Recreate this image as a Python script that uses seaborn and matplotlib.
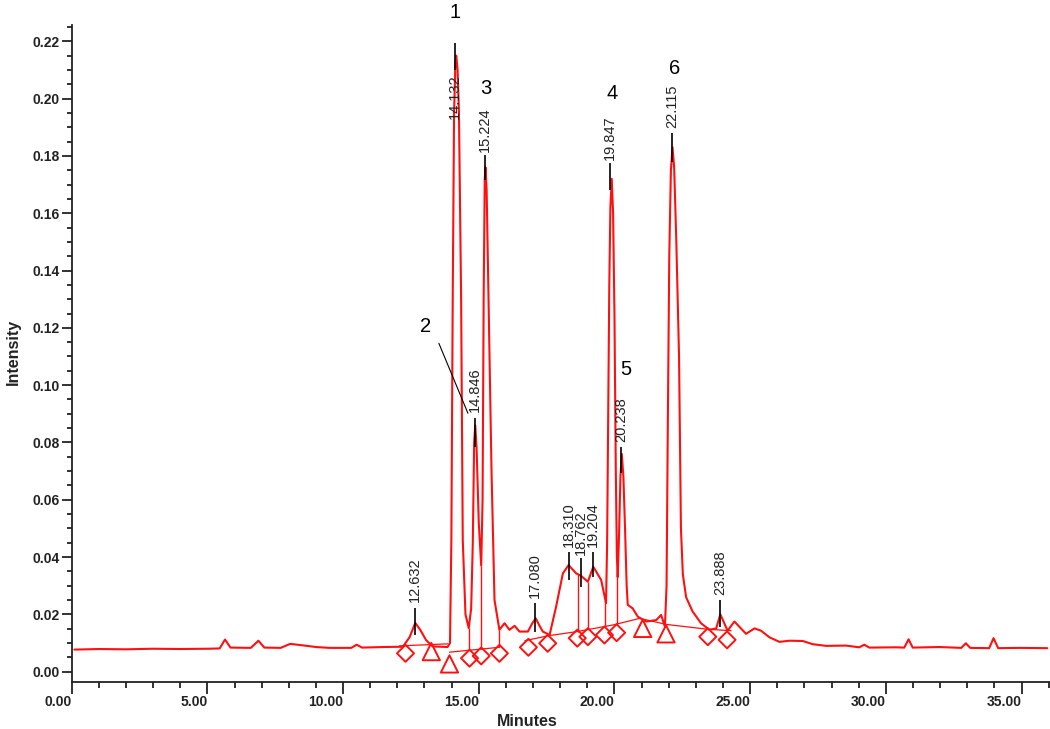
import matplotlib
matplotlib.use('Agg')
import matplotlib.pyplot as plt
from matplotlib.ticker import MultipleLocator
import seaborn as sns
import pandas as pd

# ---------------------------------------------------------------
# data
# ---------------------------------------------------------------
trace_time = [0.10, 1.0, 2.0, 3.0, 4.0, 5.0, 5.45, 5.65, 5.85, 6.6, 6.88, 7.1,
              7.7, 8.05, 8.5, 9.0, 9.5, 10.3, 10.5, 10.7, 11.5, 12.2, 12.45,
              12.66, 12.85, 13.06, 13.3, 13.85,
              13.94, 13.99, 14.04, 14.09, 14.14, 14.17, 14.22, 14.27, 14.35,
              14.41, 14.51, 14.63,
              14.72, 14.78, 14.83, 14.87, 14.92, 15.00, 15.09,
              15.14, 15.18, 15.22, 15.25, 15.29, 15.36, 15.47, 15.58, 15.70,
              15.76, 15.95, 16.13, 16.32, 16.50, 16.81, 16.98, 17.10, 17.24,
              17.36, 17.61, 17.85, 18.10, 18.31, 18.59, 18.76, 19.02, 19.22,
              19.51, 19.69,
              19.73, 19.77, 19.81, 19.85, 19.90, 19.95, 20.00, 20.05, 20.09,
              20.12,
              20.17, 20.22, 20.27, 20.33, 20.39, 20.45, 20.49, 20.67, 20.86,
              21.17, 21.54, 21.72, 21.86,
              21.92, 21.97, 22.02, 22.08, 22.14, 22.20, 22.28, 22.38, 22.45,
              22.52, 22.64, 22.88, 23.19, 23.50, 23.75, 23.90, 24.17, 24.42,
              24.85, 25.16, 25.40, 25.71, 26.08, 26.45, 26.94, 27.30, 27.80,
              28.53, 29.02, 29.21, 29.39, 30.37, 30.68, 30.84, 30.99, 31.97,
              32.78, 32.95, 33.11, 33.81, 33.97, 34.14, 34.92, 35.95]
trace_int = [0.0077, 0.0079, 0.0078, 0.0080, 0.0079, 0.0080, 0.0081, 0.0112,
             0.0084, 0.0083, 0.0108, 0.0084, 0.0083, 0.0097, 0.0092, 0.0086,
             0.0083, 0.0083, 0.0094, 0.0084, 0.0086, 0.0087, 0.0120, 0.0170,
             0.0145, 0.0110, 0.0088, 0.0086,
             0.0100, 0.046, 0.130, 0.195, 0.213, 0.215, 0.210, 0.195, 0.130,
             0.046, 0.020, 0.0152,
             0.022, 0.045, 0.080, 0.086, 0.078, 0.052, 0.037,
             0.060, 0.130, 0.172, 0.176, 0.168, 0.130, 0.070, 0.025, 0.018,
             0.0146, 0.0169, 0.0146, 0.0160, 0.0140, 0.0140, 0.0170, 0.0186,
             0.0160, 0.0140, 0.0128, 0.0227, 0.0343, 0.0372, 0.0343, 0.0335,
             0.0314, 0.0366, 0.0320, 0.0239,
             0.045, 0.090, 0.135, 0.162, 0.172, 0.160, 0.125, 0.070, 0.040,
             0.033,
             0.048, 0.068, 0.076, 0.068, 0.050, 0.030, 0.0233, 0.0221, 0.0192,
             0.0175, 0.0180, 0.0198, 0.0157,
             0.030, 0.090, 0.145, 0.175, 0.183, 0.176, 0.150, 0.110, 0.050,
             0.034, 0.026, 0.021, 0.0169, 0.0146, 0.0151, 0.0200, 0.0143,
             0.0175, 0.0132, 0.0151, 0.0143, 0.0120, 0.0104, 0.0108, 0.0107,
             0.0096, 0.0090, 0.0091, 0.0085, 0.0094, 0.0084, 0.0085, 0.0084,
             0.0113, 0.0084, 0.0086, 0.0083, 0.0099, 0.0083, 0.0082, 0.0117,
             0.0082, 0.0083, 0.0082]

# integration baselines (segment id, time, intensity)
base_seg = [0, 0, 1, 1, 2, 2, 2, 2, 2, 2, 2, 2]
base_time = [12.08, 13.85, 13.92, 15.76, 16.70, 17.54, 18.63, 19.95, 20.93,
             21.90, 23.44, 24.30]
base_int = [0.0090, 0.0097, 0.0068, 0.0085, 0.0108, 0.0125, 0.0140, 0.0163,
            0.0186, 0.0165, 0.0148, 0.0143]

# peak start/end markers
diamond_time = [12.30, 14.66, 15.09, 15.76, 16.83, 17.54, 18.63, 19.02, 19.63,
                20.08, 23.44, 24.15]
diamond_int = [0.0064, 0.0047, 0.0055, 0.0064, 0.0085, 0.0099, 0.0117, 0.0122,
               0.0128, 0.0136, 0.0122, 0.0111]
triangle_time = [13.25, 13.92, 21.04, 21.90]
triangle_int = [0.0070, 0.0027, 0.0151, 0.0132]

# drop lines between co-eluting peaks
drop_time = [14.63, 15.09, 15.76, 18.67, 19.02, 19.66, 20.10]
drop_top = [0.0152, 0.037, 0.0146, 0.034, 0.0314, 0.025, 0.034]
drop_bot = [0.0076, 0.0079, 0.0085, 0.0140, 0.0148, 0.0158, 0.0166]

# retention time annotations
peak_rt = [12.632, 14.132, 14.846, 15.224, 17.080, 18.310, 18.762, 19.204,
           19.847, 20.238, 22.115, 23.888]
peak_rt_text = ['12.632', '14.132', '14.846', '15.224', '17.080', '18.310',
                '18.762', '19.204', '19.847', '20.238', '22.115', '23.888']
apex_lo = [0.0128, 0.210, 0.0785, 0.1716, 0.014, 0.032, 0.0297, 0.0332,
           0.168, 0.0692, 0.178, 0.0155]
apex_hi = [0.0222, 0.2195, 0.0884, 0.1803, 0.0239, 0.0419, 0.0396, 0.0419,
           0.1775, 0.0785, 0.1879, 0.025]
rt_text_y = [0.0243, 0.2085, 0.0906, 0.1815, 0.0257, 0.0435, 0.0407, 0.0436,
             0.1786, 0.0803, 0.1896, 0.0268]
rt_text_va = ['bottom', 'top', 'bottom', 'bottom', 'bottom', 'bottom',
              'bottom', 'bottom', 'bottom', 'bottom', 'bottom', 'bottom']

# compound numbers
num_labels = ['1', '2', '3', '4', '5', '6']
num_time = [14.14, 13.04, 15.27, 19.90, 20.43, 22.21]
num_int = [0.230, 0.1204, 0.2037, 0.2019, 0.1056, 0.2106]
leader_time = [13.53, 14.60]
leader_int = [0.1146, 0.0902]

x_ticks = [0, 5, 10, 15, 20, 25, 30, 35]
x_tick_labels = ['0.00', '5.00', '10.00', '15.00', '20.00', '25.00', '30.00', '35.00']
y_ticks = [0.00, 0.02, 0.04, 0.06, 0.08, 0.10, 0.12, 0.14, 0.16, 0.18, 0.20, 0.22]
y_tick_labels = ['0.00', '0.02', '0.04', '0.06', '0.08', '0.10', '0.12',
                 '0.14', '0.16', '0.18', '0.20', '0.22']

# ---------------------------------------------------------------
# plot
# ---------------------------------------------------------------
sns.set_theme(style='ticks')
plt.rcParams['font.family'] = ['Liberation Sans', 'DejaVu Sans']

RED = '#ff1010'
DARK = '#222222'

fig = plt.figure(figsize=(10.5, 7.29), dpi=100)
ax = fig.add_axes([0.0683, 0.0649, 0.9317, 0.9008])

sns.lineplot(x=trace_time, y=trace_int, color=RED, lw=1.5, estimator=None,
             sort=False, ax=ax)

base_df = pd.DataFrame({'seg': base_seg, 't': base_time, 'i': base_int})
sns.lineplot(data=base_df, x='t', y='i', units='seg', estimator=None,
             color=RED, lw=0.9, ax=ax)

ax.vlines(drop_time, drop_bot, drop_top, color=RED, lw=1.0)

sns.scatterplot(x=diamond_time, y=diamond_int, marker='D', s=75,
                facecolor='none', edgecolor=RED, linewidth=1.4, ax=ax, zorder=4)
sns.scatterplot(x=triangle_time, y=triangle_int, marker='^', s=155,
                facecolor='none', edgecolor=RED, linewidth=1.4, ax=ax, zorder=4)

ax.vlines(peak_rt, apex_lo, apex_hi, color='black', lw=1.2, zorder=5)
for t, txt, y, va in zip(peak_rt, peak_rt_text, rt_text_y, rt_text_va):
    ax.text(t, y, txt, rotation=90, ha='center', va=va, fontsize=10.5,
            color=DARK, zorder=6)

for lab, t, y in zip(num_labels, num_time, num_int):
    ax.text(t, y, lab, ha='center', va='center', fontsize=14.5, color='black')
ax.plot(leader_time, leader_int, color='black', lw=0.8)

ax.set_xlim(0, 36.05)
ax.set_ylim(-0.0035, 0.2257)

ax.set_xticks(x_ticks)
ax.set_xticklabels(x_tick_labels, ha='right', fontweight='bold', fontsize=10,
                   color=DARK)
ax.set_yticks(y_ticks)
ax.set_yticklabels(y_tick_labels, fontweight='bold', fontsize=10, color=DARK)
ax.xaxis.set_minor_locator(MultipleLocator(1))
ax.yaxis.set_minor_locator(MultipleLocator(0.005))
ax.tick_params(axis='x', which='major', length=8.5, width=1.3, pad=1, color=DARK)
ax.tick_params(axis='x', which='minor', length=4.5, width=1.3, color=DARK)
ax.tick_params(axis='y', which='major', length=7, width=1.3, pad=1.5, color=DARK)
ax.tick_params(axis='y', which='minor', length=3.5, width=1.3, color=DARK)

sns.despine(ax=ax)
for side in ['left', 'bottom']:
    ax.spines[side].set_linewidth(1.3)
    ax.spines[side].set_color(DARK)

ax.set_xlabel('Minutes', fontweight='bold', fontsize=11.5, color=DARK)
ax.xaxis.set_label_coords(0.4654, -0.049)
ax.set_ylabel('Intensity', fontweight='bold', fontsize=11.5, color=DARK)
ax.yaxis.set_label_coords(-0.052, 0.502)

fig.savefig('out.png', dpi=100)
